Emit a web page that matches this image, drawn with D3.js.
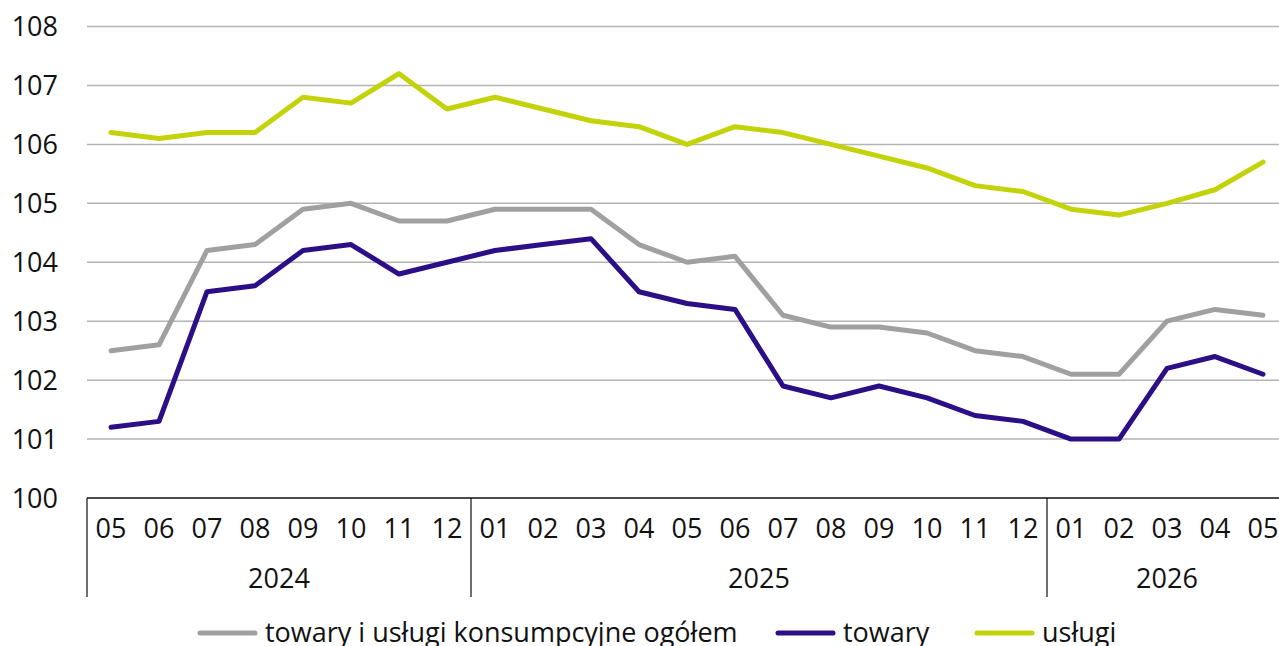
<!DOCTYPE html>
<html>
<head>
<meta charset="utf-8">
<script src="https://cdn.jsdelivr.net/npm/d3@7"></script>
<style>
  body { margin: 0; background: #fff; }
  svg { display: block; font-family: "Open Sans", "Noto Sans", sans-serif; }
</style>
</head>
<body>
<div id="chart"></div>
<script>
var months = ["05","06","07","08","09","10","11","12","01","02","03","04","05","06","07","08","09","10","11","12","01","02","03","04","05"];
var years = [
  {label: "2024", from: 0, to: 7},
  {label: "2025", from: 8, to: 19},
  {label: "2026", from: 20, to: 24}
];
var yTicks = [100, 101, 102, 103, 104, 105, 106, 107, 108];

var ogolem = [102.5, 102.6, 104.2, 104.3, 104.9, 105.0, 104.7, 104.7, 104.9, 104.9, 104.9, 104.3, 104.0, 104.1, 103.1, 102.9, 102.9, 102.8, 102.5, 102.4, 102.1, 102.1, 103.0, 103.2, 103.1];
var towary = [101.2, 101.3, 103.5, 103.6, 104.2, 104.3, 103.8, 104.0, 104.2, 104.3, 104.4, 103.5, 103.3, 103.2, 101.9, 101.7, 101.9, 101.7, 101.4, 101.3, 101.0, 101.0, 102.2, 102.4, 102.1];
var uslugi = [106.2, 106.1, 106.2, 106.2, 106.8, 106.7, 107.2, 106.6, 106.8, 106.6, 106.4, 106.3, 106.0, 106.3, 106.2, 106.0, 105.8, 105.6, 105.3, 105.2, 104.9, 104.8, 105.0, 105.23, 105.7];

var series = [
  {name: "towary i usługi konsumpcyjne ogółem", values: ogolem, color: "#a0a0a0"},
  {name: "towary", values: towary, color: "#2c0f87"},
  {name: "usługi", values: uslugi, color: "#c2d30a"}
];

var width = 1279, height = 646;
var svg = d3.select("#chart").append("svg").attr("width", width).attr("height", height);

var x = d3.scaleBand().domain(d3.range(months.length)).range([87, 1287]);
var y = d3.scaleLinear().domain([100, 108]).range([498, 26.5]);

// gridlines
svg.selectAll(".grid")
  .data(yTicks.filter(function(d){return d > 100;}))
  .enter()
  .append("line")
  .attr("class", "grid")
  .attr("x1", 87).attr("x2", width)
  .attr("y1", function(d){return y(d);}).attr("y2", function(d){return y(d);})
  .style("stroke", "#b4b4b4")
  .style("stroke-width", "1.5");

// y labels
svg.selectAll(".ylab")
  .data(yTicks)
  .enter()
  .append("text")
  .attr("class", "ylab")
  .attr("x", 58)
  .attr("y", function(d){return y(d);})
  .attr("dy", "0.36em")
  .attr("text-anchor", "end")
  .style("font-size", "27px")
  .style("fill", "#111")
  .text(function(d){return d;});

// base axis
svg.append("line")
  .attr("x1", 87).attr("x2", width)
  .attr("y1", y(100)).attr("y2", y(100))
  .style("stroke", "#111").style("stroke-width", "1.5");

// year separators
var seps = [0].concat(years.map(function(d){return d.to + 1;}));
svg.selectAll(".sep")
  .data(seps)
  .enter()
  .append("line")
  .attr("class", "sep")
  .attr("x1", function(d){return d < months.length ? x(d) : x.range()[1];})
  .attr("x2", function(d){return d < months.length ? x(d) : x.range()[1];})
  .attr("y1", y(100)).attr("y2", 597)
  .style("stroke", "#111").style("stroke-width", "1.2");

// month labels
svg.selectAll(".mlab")
  .data(months)
  .enter()
  .append("text")
  .attr("class", "mlab")
  .attr("x", function(d, i){return x(i) + x.bandwidth() / 2;})
  .attr("y", 538)
  .attr("text-anchor", "middle")
  .style("font-size", "27px")
  .style("fill", "#111")
  .text(function(d){return d;});

// year labels
svg.selectAll(".yrlab")
  .data(years)
  .enter()
  .append("text")
  .attr("class", "yrlab")
  .attr("x", function(d){return (x(d.from) + x(d.to) + x.bandwidth()) / 2;})
  .attr("y", 588)
  .attr("text-anchor", "middle")
  .style("font-size", "27px")
  .style("fill", "#111")
  .text(function(d){return d.label;});

// lines
var line = d3.line()
  .x(function(d, i){return x(i) + x.bandwidth() / 2;})
  .y(function(d){return y(d);});

svg.selectAll(".series")
  .data(series)
  .enter()
  .append("path")
  .attr("class", "series")
  .attr("d", function(d){return line(d.values);})
  .style("fill", "none")
  .style("stroke", function(d){return d.color;})
  .style("stroke-width", "5")
  .style("stroke-linejoin", "round")
  .style("stroke-linecap", "round");

// legend
var legendX = [200, 778, 977];
var lg = svg.selectAll(".legend")
  .data(series)
  .enter()
  .append("g")
  .attr("class", "legend")
  .attr("transform", function(d, i){return "translate(" + legendX[i] + ",633)";});

lg.append("line")
  .attr("x1", 0).attr("x2", 55)
  .attr("y1", 0).attr("y2", 0)
  .style("stroke", function(d){return d.color;})
  .style("stroke-width", "5")
  .style("stroke-linecap", "round");

lg.append("text")
  .attr("x", 65)
  .attr("y", 9)
  .style("font-size", "27px")
  .style("fill", "#111")
  .text(function(d){return d.name;});
</script>
</body>
</html>
